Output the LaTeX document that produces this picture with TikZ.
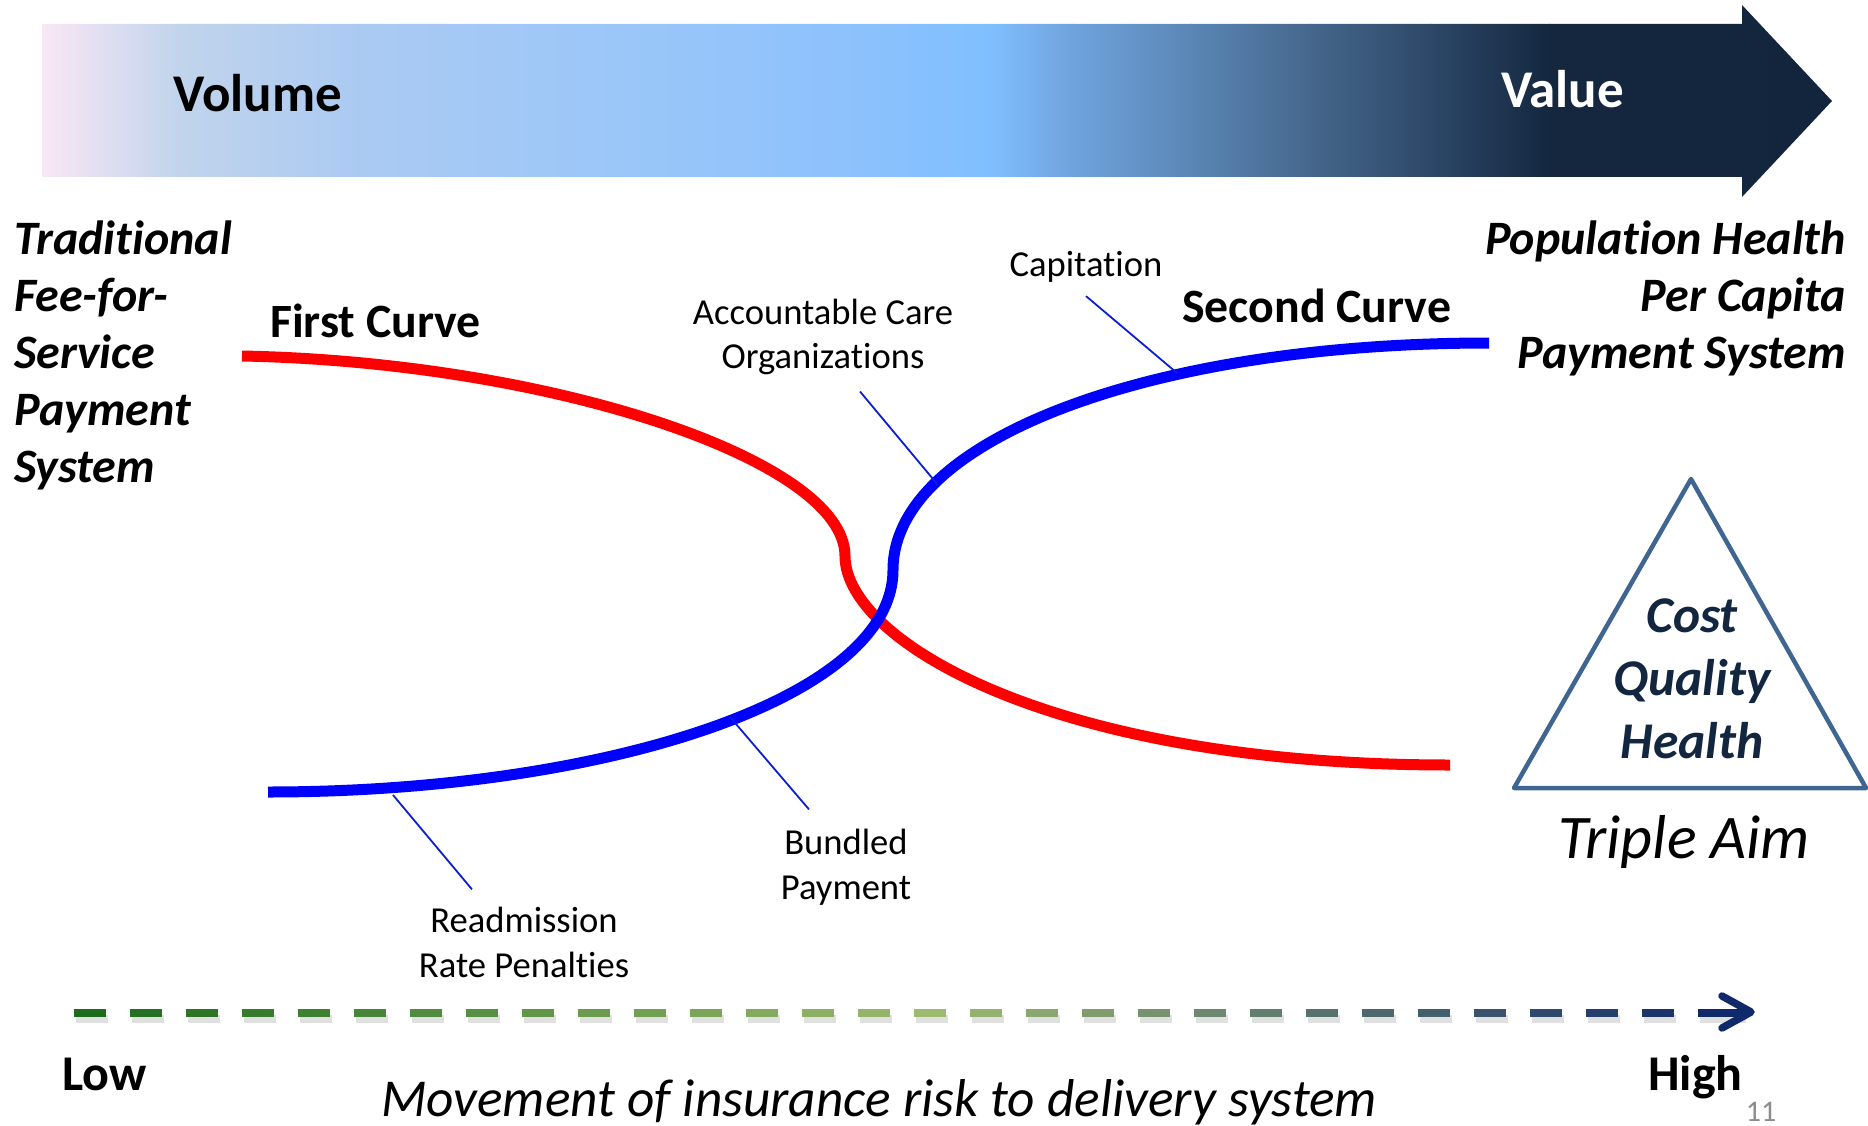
\documentclass[tikz,border=0pt]{standalone}
\usepackage{fontspec}
\setmainfont[Ligatures=NoCommon]{Carlito}
\usetikzlibrary{calc}
\definecolor{g0}{HTML}{F9E7F5}
\definecolor{g1}{HTML}{C1D4EC}
\definecolor{g2}{HTML}{ABCAF2}
\definecolor{g3}{HTML}{9CC7F8}
\definecolor{g4}{HTML}{8EC2FC}
\definecolor{g5}{HTML}{80BFFF}
\definecolor{g6}{HTML}{6FA3DD}
\definecolor{g7}{HTML}{5A86B5}
\definecolor{g8}{HTML}{45678C}
\definecolor{g9}{HTML}{2D4868}
\definecolor{g10}{HTML}{14273F}
\definecolor{g11}{HTML}{12253D}
\definecolor{dg}{HTML}{1D6B1D}
\definecolor{lg}{HTML}{9DBB6F}
\definecolor{navyd}{HTML}{10296B}
\definecolor{tricol}{HTML}{3F6591}
\definecolor{aimtxt}{HTML}{13263F}
\definecolor{connc}{HTML}{0A1ED8}
\begin{document}
\begin{tikzpicture}[x=1pt,y=-1pt,
  lbl/.style={inner sep=0pt, anchor=base, font=\fontsize{36.6}{43}\selectfont},
  sidetxt/.style={inner sep=0pt, font=\fontsize{48}{57}\selectfont\bfseries\itshape},
  curvetitle/.style={inner sep=0pt, anchor=base, font=\fontsize{47.8}{55}\selectfont\bfseries},
  bartxt/.style={inner sep=0pt, anchor=base, font=\fontsize{53}{62}\selectfont\bfseries},
  aimtxtst/.style={inner sep=0pt, anchor=base, text=aimtxt, font=\fontsize{51.5}{60}\selectfont\bfseries\itshape},
  curveline/.style={line width=11pt},
  conn/.style={draw=connc, line width=1.8pt},
  dashseg/.style={line width=7.5pt}]
\useasboundingbox (0,0) rectangle (1868,1126);

% ---- top gradient arrow ----
\begin{scope}
  \clip (42,24) -- (1742,24) -- (1742,5) -- (1832,101) -- (1742,197) -- (1742,177) -- (42,177) -- cycle;
  \foreach \xa/\xb/\ca/\cb in {42/179/g0/g1, 179/357/g1/g2, 357/596/g2/g3, 596/834/g3/g4, 834/989/g4/g5, 989/1072/g5/g6, 1072/1191/g6/g7, 1191/1310/g7/g8, 1310/1430/g8/g9, 1430/1549/g9/g10, 1549/1840/g10/g11}
    \shade[left color=\ca, right color=\cb] (\xa,0) rectangle (\xb+1,200);
\end{scope}
\node[bartxt, anchor=base west] (volume) at (173,112) {Volume};
\node[bartxt, anchor=base west, text=white] (value) at (1501,108) {Value};

% ---- side texts ----
\node[sidetxt, anchor=base west] (t1) at (14,254) {Traditional};
\node[sidetxt, anchor=base west] (t2) at (14,311) {Fee-for-};
\node[sidetxt, anchor=base west] (t3) at (14,368) {Service};
\node[sidetxt, anchor=base west] (t4) at (14,425) {Payment};
\node[sidetxt, anchor=base west] (t5) at (14,482) {System};

\node[sidetxt, anchor=base east] (p1) at (1846,254) {Population Health};
\node[sidetxt, anchor=base east] (p2) at (1846,311) {Per Capita};
\node[sidetxt, anchor=base east] (p3) at (1846,368) {Payment System};

% ---- curve titles ----
\node[curvetitle, anchor=base west] (first) at (270,337) {First Curve};
\node[curvetitle, anchor=base west] (second) at (1182,322) {Second Curve};

% ---- curves ----
\draw[curveline, red] (242,356) .. controls (550,362) and (845,460) .. (845,556)
   .. controls (845,640) and (1050,765) .. (1450,765);
\draw[curveline, blue] (268,792) .. controls (600,792) and (893,700) .. (893,570)
   .. controls (893,440) and (1150,343) .. (1489,343);

% ---- labels and connectors ----
\node[lbl] (cap) at (1086,276) {Capitation};
\node[lbl] (aco1) at (823,324) {Accountable Care};
\node[lbl] (aco2) at (823,368) {Organizations};
\node[lbl] (bun1) at (846,854) {Bundled};
\node[lbl] (bun2) at (846,899) {Payment};
\node[lbl] (rea1) at (524,932) {Readmission};
\node[lbl] (rea2) at (524,977) {Rate Penalties};

\coordinate (capE) at (1177,373);
\coordinate (acoE) at (938,485);
\coordinate (bunE) at (730,717);
\coordinate (reaE) at (393,795);

\draw[conn] ($(cap.south)+(0,14)$) -- (capE);
\draw[conn] ($(aco2.south)+(37,17)$) -- (acoE);
\draw[conn] ($(bun1.north)+(-37,-19)$) -- (bunE);
\draw[conn] ($(rea1.north)+(-52,-17)$) -- (reaE);

% ---- triple aim ----
\draw[tricol, line width=4.5pt, line join=round] (1691,479) -- (1514,788) -- (1866,788) -- cycle;
\node[aimtxtst] (cost) at (1692,632) {Cost};
\node[aimtxtst] (quality) at (1692,695) {Quality};
\node[aimtxtst] (health) at (1692,758) {Health};
\node[inner sep=0pt, anchor=base, font=\fontsize{62}{72}\selectfont\itshape] (aim) at (1684,858) {Triple Aim};

% ---- bottom dashed gradient arrow ----
\foreach \k in {0,...,28} {
  \pgfmathsetmacro\xs{74+56*\k}
  \ifnum\k<15
    \pgfmathtruncatemacro\pp{100*\k/15}
    \colorlet{dc}{lg!\pp!dg}
  \else
    \pgfmathtruncatemacro\pp{100*(\k-15)/14}
    \colorlet{dc}{navyd!\pp!lg}
  \fi
  \draw[dashseg, black, opacity=0.12] (\xs+2,1019) -- (\xs+34,1019);
  \draw[dashseg, dc] (\xs,1013) -- (\xs+32,1013);
}
\coordinate (arrS) at (1698,1013);
\coordinate (arrT) at (1751,1012);
\draw[dashseg, black, opacity=0.12] (1700,1019) -- (1746,1019);
\draw[dashseg, navyd] (arrS) -- (1746,1013);
\draw[dashseg, navyd, line cap=round, line join=round] (1722,996) -- (arrT) -- (1722,1028);

\node[bartxt, anchor=base west, font=\fontsize{50}{60}\selectfont\bfseries] (low) at (62,1090) {Low};
\node[bartxt, anchor=base west, font=\fontsize{50}{60}\selectfont\bfseries] (high) at (1648,1090) {High};
\node[inner sep=0pt, anchor=base, font=\fontsize{53.3}{62}\selectfont\itshape] (move) at (879,1116) {Movement of insurance risk to delivery system};
\node[inner sep=0pt, anchor=base, text=black!45, font=\fontsize{30}{36}\selectfont] (pg) at (1761,1121) {11};
\end{tikzpicture}
\end{document}
